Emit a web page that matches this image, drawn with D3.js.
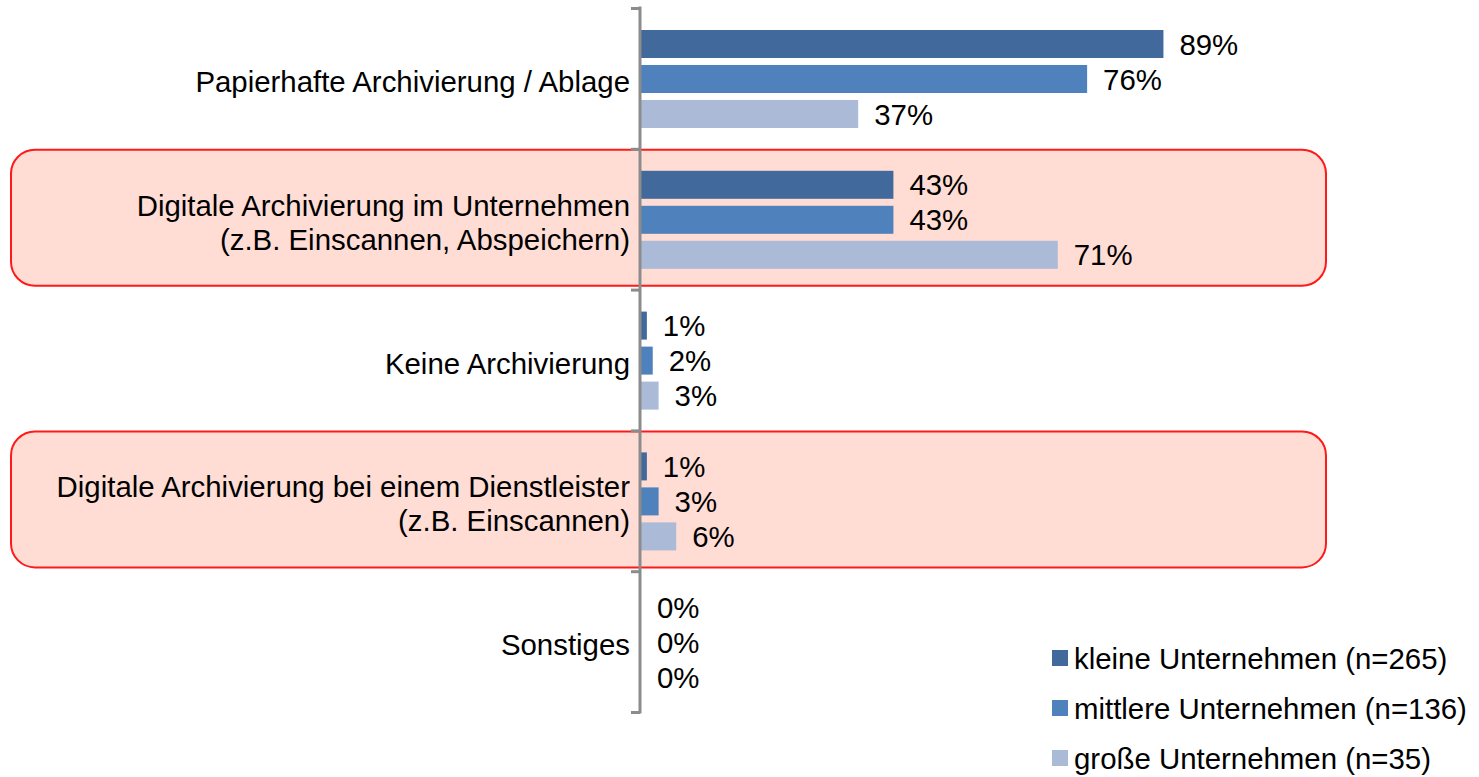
<!DOCTYPE html>
<html>
<head>
<meta charset="utf-8">
<script src="https://cdn.jsdelivr.net/npm/d3@7"></script>
<style>
  body { margin: 0; background: #fff; }
  text { font-family: "Liberation Sans", Arial, sans-serif; fill: #000; }
</style>
</head>
<body>
<div class="archive-graph"></div>
<script>
// chart data
var categories = [
  ["Papierhafte Archivierung / Ablage"],
  ["Digitale Archivierung im Unternehmen", "(z.B. Einscannen, Abspeichern)"],
  ["Keine Archivierung"],
  ["Digitale Archivierung bei einem Dienstleister", "(z.B. Einscannen)"],
  ["Sonstiges"]
];
var series = ["kleine Unternehmen (n=265)", "mittlere Unternehmen (n=136)", "große Unternehmen (n=35)"];
var klein   = [89, 43, 1, 1, 0];
var mittel  = [76, 43, 2, 3, 0];
var gross   = [37, 71, 3, 6, 0];
var highlighted = [1, 3];

var colors = ["#41699b", "#4f81bd", "#aabad7"];
var values = [klein, mittel, gross];

var width = 1479, height = 777;
var fontSize = "29.4px";

var svg = d3.select(".archive-graph").append("svg")
    .attr("width", width)
    .attr("height", height);

// scales
var y = d3.scaleBand()
    .domain(d3.range(categories.length))
    .range([8, 712])
    .padding(0);

var ySub = d3.scaleBand()
    .domain(d3.range(series.length))
    .range([22, 120])
    .paddingInner(0.2)
    .paddingOuter(0);

var x = d3.scaleLinear()
    .domain([0, 100])
    .range([641, 1228]);

// highlight boxes behind the groups
svg.selectAll("rect.highlight")
    .data(highlighted)
    .enter().append("rect")
    .attr("class", "highlight")
    .attr("x", 11)
    .attr("y", function(d) { return y(d) + 1 })
    .attr("width", 1315)
    .attr("height", 136)
    .attr("rx", 24)
    .attr("fill", "#ffddd5")
    .attr("stroke", "#ff1a1a")
    .attr("stroke-width", 2);

// bars
var groups = svg.selectAll("g.group")
    .data(categories)
    .enter().append("g")
    .attr("class", "group")
    .attr("transform", function(d, i) { return "translate(0," + y(i) + ")" });

groups.each(function(c, i) {
  var g = d3.select(this);
  var rows = series.map(function(s, j) { return {j: j, v: values[j][i]} });

  g.selectAll("rect")
      .data(rows.filter(function(d) { return d.v > 0 }))
      .enter().append("rect")
      .attr("x", x(0))
      .attr("y", function(d) { return ySub(d.j) })
      .attr("width", function(d) { return x(d.v) - x(0) })
      .attr("height", ySub.bandwidth())
      .attr("fill", function(d) { return colors[d.j] });

  g.selectAll("text.value")
      .data(rows)
      .enter().append("text")
      .attr("class", "value")
      .attr("x", function(d) { return x(d.v) + 16 })
      .attr("y", function(d) { return ySub(d.j) + ySub.bandwidth() / 2 })
      .attr("dy", ".36em")
      .style("font-size", fontSize)
      .text(function(d) { return d.v + "%" });

  // category label
  var lbl = g.append("text")
      .attr("text-anchor", "end")
      .style("font-size", fontSize);
  var mid = y.bandwidth() / 2 + 3;
  c.forEach(function(line, k) {
    lbl.append("tspan")
        .attr("x", 630)
        .attr("y", mid + (k - (c.length - 1) / 2) * 34)
        .attr("dy", ".36em")
        .text(line);
  });
});

// left axis with ticks on category boundaries
var axis = d3.axisLeft(d3.scaleLinear().domain([0, categories.length]).range([8, 712]))
    .ticks(categories.length)
    .tickSize(9)
    .tickFormat("");

svg.append("g")
    .attr("transform", "translate(640,0)")
    .call(axis)
    .call(function(g) {
      g.select(".domain").remove();
      g.selectAll(".tick line").attr("stroke", "#8c8c8c").attr("stroke-width", 3);
    })
    .append("line")
    .attr("x1", 0).attr("x2", 0)
    .attr("y1", 6.5).attr("y2", 713.5)
    .attr("stroke", "#8c8c8c")
    .attr("stroke-width", 3);

// legend
var legend = svg.append("g")
    .attr("class", "legend")
    .attr("transform", "translate(1052,658)");

var item = legend.selectAll("g")
    .data(series)
    .enter().append("g")
    .attr("transform", function(d, i) { return "translate(0," + i * 50 + ")" });

item.append("rect")
    .attr("x", 0)
    .attr("y", -8)
    .attr("width", 16)
    .attr("height", 16)
    .attr("fill", function(d, i) { return colors[i] });

item.append("text")
    .attr("x", 22)
    .attr("y", 0)
    .attr("dy", ".36em")
    .style("font-size", fontSize)
    .text(function(d) { return d });
</script>
</body>
</html>
